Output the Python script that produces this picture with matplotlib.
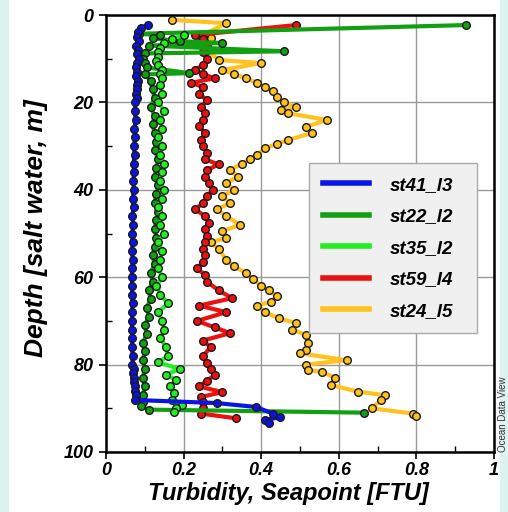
import numpy as np
import matplotlib
matplotlib.use("Agg")
import matplotlib.pyplot as plt
from matplotlib.lines import Line2D
from matplotlib.patches import Rectangle
from matplotlib.ticker import MultipleLocator

plt.rcParams['font.family'] = ['Liberation Sans', 'DejaVu Sans']

# station profiles: depth [m] and turbidity [FTU]
st41_depth = [2.3, 3, 4, 5, 6, 7, 8, 9, 10, 11, 12, 13, 14, 15, 16, 17, 18, 19, 20,
              22, 24, 26, 28, 30, 32, 34, 36, 38, 40, 42, 44, 46, 48, 50, 52, 54, 56, 58,
              60, 62, 64, 66, 68, 70, 72, 74, 76, 78, 80,
              81, 82, 83, 84, 85, 86, 87,
              88.1, 88.8, 89.7, 91.2, 92.1, 92.6, 93.3]
st41_turb = [0.108, 0.090, 0.083, 0.080, 0.084, 0.078, 0.082, 0.079, 0.085, 0.080,
             0.077, 0.081, 0.078, 0.082, 0.079, 0.081, 0.077, 0.079, 0.076,
             0.074, 0.077, 0.073, 0.075, 0.072, 0.074, 0.071, 0.073, 0.070, 0.072,
             0.069, 0.071, 0.068, 0.070, 0.068, 0.069, 0.067, 0.069, 0.068, 0.066,
             0.068, 0.067, 0.069, 0.067, 0.068, 0.066, 0.068, 0.067, 0.069, 0.068,
             0.071, 0.069, 0.073, 0.072, 0.076, 0.074, 0.078,
             0.076, 0.285, 0.387, 0.43, 0.448, 0.41, 0.42]

st22_depth = [2.3, 4.3, 4.6, 5.3, 6.0, 6.4, 7.0, 8.3, 8.8, 10, 11, 12, 13.3, 13.6,
              15, 17, 19, 21, 23, 25, 27, 29, 31, 33, 35, 37, 39, 41, 43, 45, 47, 49,
              51, 53, 55, 57, 59, 61, 63, 65, 67, 69, 71, 73, 75, 77, 79, 81, 83, 85, 87,
              88.5, 89.5, 90.3, 91.0]
st22_turb = [0.928, 0.085, 0.14, 0.12, 0.19, 0.30, 0.11, 0.46, 0.10, 0.095, 0.10, 0.105, 0.215, 0.10,
             0.115, 0.12, 0.125, 0.115, 0.125, 0.12, 0.125, 0.13, 0.125, 0.135, 0.13, 0.125, 0.135,
             0.13, 0.125, 0.135, 0.13, 0.125, 0.13, 0.125, 0.12, 0.125, 0.115, 0.12, 0.11,
             0.115, 0.105, 0.11, 0.10, 0.105, 0.095, 0.10, 0.095, 0.10, 0.095, 0.10, 0.095,
             0.095, 0.09, 0.11, 0.665]

st35_depth = [4.6, 5.5, 6.5, 7.5, 8.5, 9.5, 10.5, 11.5, 12.5, 13.5, 14.5,
              16, 18, 20, 22, 24, 26, 28, 30, 32, 34, 36, 38, 40, 42, 44, 46, 48, 50,
              52, 54, 56, 58, 60, 62, 64, 66, 68, 70, 72, 74, 76, 78,
              79.5, 81, 82.3, 83.5, 85, 86.5, 88, 89.2, 90.0, 90.8]
st35_turb = [0.20, 0.17, 0.15, 0.14, 0.135, 0.135, 0.13, 0.135, 0.145, 0.14, 0.145,
             0.14, 0.145, 0.135, 0.15, 0.14, 0.145, 0.135, 0.145, 0.14, 0.15, 0.145,
             0.14, 0.15, 0.145, 0.135, 0.145, 0.14, 0.15, 0.135, 0.145, 0.14, 0.135,
             0.145, 0.13, 0.14, 0.16, 0.135, 0.145, 0.15, 0.14, 0.155, 0.16,
             0.135, 0.19, 0.155, 0.18, 0.165, 0.175, 0.17, 0.195, 0.18, 0.175]

st59_depth = [2.3, 4.6, 5.5, 7, 8.5, 10, 11.5, 12.5, 13.5, 14.5, 15.5, 16.5, 18, 19.5,
              21, 22.5, 24, 25.5, 27, 28.5, 30, 31.5, 33, 34.2, 35.5, 37, 38.5, 40,
              41.5, 43, 44.5, 46, 47.5, 49, 50.5, 52, 53.5, 55, 56.5, 58, 59.5, 61,
              63, 64.8, 66.5, 68, 70, 71.5, 72.8, 74.5, 76, 78, 79.7, 81, 82.4, 83.7,
              85, 86.3, 87.4, 88.5, 90, 91.2, 92.3]
st59_turb = [0.49, 0.23, 0.25, 0.26, 0.25, 0.26, 0.25, 0.23, 0.25, 0.28, 0.22, 0.25,
             0.24, 0.26, 0.245, 0.255, 0.25, 0.24, 0.255, 0.245, 0.25, 0.26, 0.255,
             0.29, 0.26, 0.255, 0.265, 0.275, 0.26, 0.25, 0.23, 0.255, 0.265, 0.255,
             0.26, 0.255, 0.25, 0.255, 0.25, 0.235, 0.255, 0.26,
             0.29, 0.325, 0.24, 0.31, 0.235, 0.28, 0.32, 0.25, 0.27, 0.25, 0.26,
             0.27, 0.28, 0.26, 0.24, 0.30, 0.245, 0.25, 0.25, 0.245, 0.335]

st24_depth = [1.1, 1.9, 4.6, 5.2, 6.5, 8, 10.3, 11, 12.6, 13.5, 14.5, 15.5, 16.5, 17.5,
              18.7, 20, 21, 21.8, 22.5, 24, 25.6, 27, 28.6, 29.5, 30.5, 32, 33, 34,
              35.5, 37, 38.5, 40, 41.5, 43, 44.5, 46, 48, 49.5, 51, 52, 53.5, 56,
              57.5, 59, 60.5, 62, 63, 64.3, 65.6, 66.5, 68, 69.4, 70.5, 72, 73.2, 75,
              76.7, 77.4, 79, 80, 81.2, 81.7, 83, 84.7, 86.2, 87, 88, 90, 91.2, 91.8]
st24_turb = [0.17, 0.31, 0.25, 0.27, 0.24, 0.26, 0.29, 0.40, 0.30, 0.33, 0.36, 0.39,
             0.41, 0.43, 0.44, 0.46, 0.49, 0.45, 0.47, 0.57, 0.515, 0.53, 0.47, 0.44,
             0.41, 0.39, 0.37, 0.35, 0.32, 0.34, 0.31, 0.33, 0.30, 0.32, 0.285, 0.31,
             0.345, 0.30, 0.31, 0.27, 0.29, 0.31, 0.33, 0.36, 0.38, 0.40, 0.42, 0.44,
             0.425, 0.39, 0.41, 0.445, 0.49, 0.48, 0.515, 0.52, 0.515, 0.50, 0.62,
             0.515, 0.52, 0.557, 0.59, 0.58, 0.65, 0.72, 0.71, 0.685, 0.79, 0.80]

stations = ['st41_l3', 'st22_l2', 'st35_l2', 'st59_l4', 'st24_l5']
colors = ['#0a14e6', '#12a012', '#22ee22', '#ee1010', '#ffc21e']
depths = [st41_depth, st22_depth, st35_depth, st59_depth, st24_depth]
turbs = [st41_turb, st22_turb, st35_turb, st59_turb, st24_turb]

fig = plt.figure(figsize=(5.08, 5.12), dpi=100)
# light cyan page strips at both sides
fig.patches.append(Rectangle((0, 0), 8/508, 1, transform=fig.transFigure,
                             color='#dcf3f0', zorder=0))
fig.patches.append(Rectangle((500/508, 0), 8/508, 1, transform=fig.transFigure,
                             color='#dcf3f0', zorder=0))

ax = fig.add_axes([106/508, 1 - 452/512, 388/508, 437/512])

for i in [4, 3, 1, 2, 0]:
    ax.plot(turbs[i], depths[i], color=colors[i], lw=3.0, marker='o', ms=5.5,
            mfc=colors[i], mec='#1a1a1a', mew=1.0, zorder=3)

ax.set_xlim(0, 1)
ax.set_ylim(100, 0)
ax.xaxis.set_minor_locator(MultipleLocator(0.1))
ax.yaxis.set_major_locator(MultipleLocator(20))
ax.yaxis.set_minor_locator(MultipleLocator(10))
ax.set_xticks([0, 0.2, 0.4, 0.6, 0.8, 1])
ax.set_xticklabels(['0', '0.2', '0.4', '0.6', '0.8', '1'])
ax.grid(True, which='major', color='#999999', lw=1)
ax.set_axisbelow(True)
ax.tick_params(which='major', direction='out', length=5, width=1.2, pad=4)
ax.tick_params(axis='x', which='major', pad=2)
ax.tick_params(which='minor', direction='in', length=4, width=1.0)
for lab in ax.get_xticklabels() + ax.get_yticklabels():
    lab.set_fontsize(13)
    lab.set_fontweight('bold')
    lab.set_fontstyle('italic')
for sp in ax.spines.values():
    sp.set_linewidth(1.8)

ax.set_xlabel('Turbidity, Seapoint [FTU]', fontsize=17, fontweight='bold',
              fontstyle='italic', va='top')
ax.xaxis.set_label_coords(0.47, -0.068)
ax.set_ylabel('Depth [salt water, m]', fontsize=19, fontweight='bold',
              fontstyle='italic', labelpad=10)
ax.yaxis.set_label_coords(-0.15, 0.513)

handles = [Line2D([], [], color=c, lw=4) for c in colors]
leg = ax.legend(handles, stations, loc='upper left',
                bbox_to_anchor=(0.50, 0.382, 0.48, 0.3), mode='expand',
                prop={'size': 13.5, 'weight': 'bold', 'style': 'italic'},
                handlelength=2.5, handletextpad=1.1, labelspacing=0.77,
                borderpad=0.7, fancybox=False, framealpha=1)
leg.get_frame().set_facecolor('#f0f0f0')
leg.get_frame().set_edgecolor('#aaaaaa')

fig.text(503/508, 1 - 452/512, 'Ocean Data View', rotation=90, fontsize=7,
         ha='center', va='bottom', color='#333333')

fig.savefig('out.png', dpi=100)
